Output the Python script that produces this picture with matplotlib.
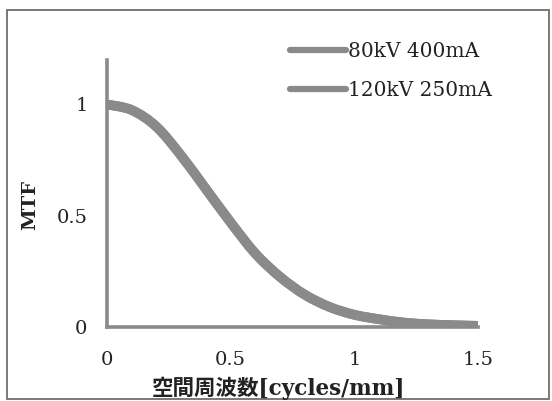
import matplotlib
matplotlib.use("Agg")
import matplotlib.pyplot as plt
import numpy as np
from matplotlib.patches import Rectangle, PathPatch
from matplotlib.path import Path
from matplotlib.lines import Line2D

# Spatial frequency [cycles/mm] and MTF for the two exposure settings
freq = [0.0, 0.1, 0.2, 0.3, 0.4, 0.5, 0.6, 0.7, 0.8, 0.9, 1.0, 1.1, 1.2, 1.3, 1.4, 1.5]
mtf_80kv = [1.00, 0.975, 0.90, 0.77, 0.62, 0.47, 0.33, 0.225, 0.145, 0.09, 0.055, 0.035, 0.02, 0.012, 0.008, 0.005]
mtf_120kv = [1.00, 0.975, 0.90, 0.77, 0.62, 0.47, 0.33, 0.225, 0.145, 0.09, 0.055, 0.035, 0.02, 0.012, 0.008, 0.005]
series_labels = ["80kV 400mA", "120kV 250mA"]
x_ticks = [0, 0.5, 1, 1.5]
x_tick_labels = ["0", "0.5", "1", "1.5"]
y_ticks = [0, 0.5, 1]
y_tick_labels = ["0", "0.5", "1"]


def smooth_path(xs, ys):
    """Smoothed line through the points (Catmull-Rom segments as cubic Beziers)."""
    p = np.column_stack([xs, ys]).astype(float)
    n = len(p)
    verts = [p[0]]
    codes = [Path.MOVETO]
    for i in range(n - 1):
        p0 = p[i - 1] if i > 0 else p[i]
        p1, p2 = p[i], p[i + 1]
        p3 = p[i + 2] if i + 2 < n else p[i + 1]
        c1 = p1 + (p2 - p0) / 6.0
        c2 = p2 - (p3 - p1) / 6.0
        verts += [c1, c2, p2]
        codes += [Path.CURVE4] * 3
    return Path(verts, codes)


W, H = 552, 401
fig = plt.figure(figsize=(W / 100, H / 100), dpi=100)
fig.patch.set_facecolor("white")

ax = fig.add_axes([107 / W, 1 - 327 / H, (478 - 107) / W, (327 - 60) / H])
line_color = "#8a8a8a"
handles = []
for y, lab in zip([mtf_80kv, mtf_120kv], series_labels):
    ax.add_patch(PathPatch(smooth_path(freq, y), fill=False, edgecolor=line_color,
                           lw=7, capstyle="butt", zorder=3))
    handles.append(Line2D([], [], color=line_color, lw=4.5,
                          solid_capstyle="round", label=lab))

ax.set_xlim(0, 1.5)
ax.set_ylim(0, 1.2)
ax.set_xticks(x_ticks)
ax.set_xticklabels(x_tick_labels)
ax.set_yticks(y_ticks)
ax.set_yticklabels(y_tick_labels)
ax.tick_params(axis="y", length=0, labelsize=14, colors="#222222", pad=14)
ax.tick_params(axis="x", length=0, labelsize=14, colors="#222222", pad=17)
for lbl in ax.get_xticklabels() + ax.get_yticklabels():
    lbl.set_family("DejaVu Serif")

for side in ["top", "right"]:
    ax.spines[side].set_visible(False)
for side in ["left", "bottom"]:
    ax.spines[side].set_color("#8a8a8a")
    ax.spines[side].set_linewidth(2.6)
    ax.spines[side].set_zorder(2)

leg = ax.legend(handles=handles, loc="upper left",
                bbox_to_anchor=(290 / W, 1 - 42 / H),
                bbox_transform=fig.transFigure, frameon=False,
                handlelength=2.8, handletextpad=0.1, labelspacing=1.0,
                borderaxespad=0, borderpad=0,
                prop={"family": "DejaVu Serif", "size": 14.5})
for t in leg.get_texts():
    t.set_color("#222222")

fig.text(30 / W, 1 - 205 / H, "MTF", rotation=90, ha="center", va="center",
         family="DejaVu Serif", fontweight="bold", fontsize=14, color="#222222")
fig.text(278 / W, 1 - 388 / H, "空間周波数[cycles/mm]", ha="center", va="center",
         family=["DejaVu Serif", "Noto Sans CJK JP"], fontweight="bold",
         fontsize=15.5, color="#222222")

# Outer frame around the whole chart
fig.add_artist(Rectangle((7 / W, 1 - 399 / H), (549 - 7) / W, (399 - 10) / H,
                         transform=fig.transFigure, fill=False,
                         edgecolor="#6e6e6e", linewidth=1.3))

fig.savefig("out.png", dpi=100)
